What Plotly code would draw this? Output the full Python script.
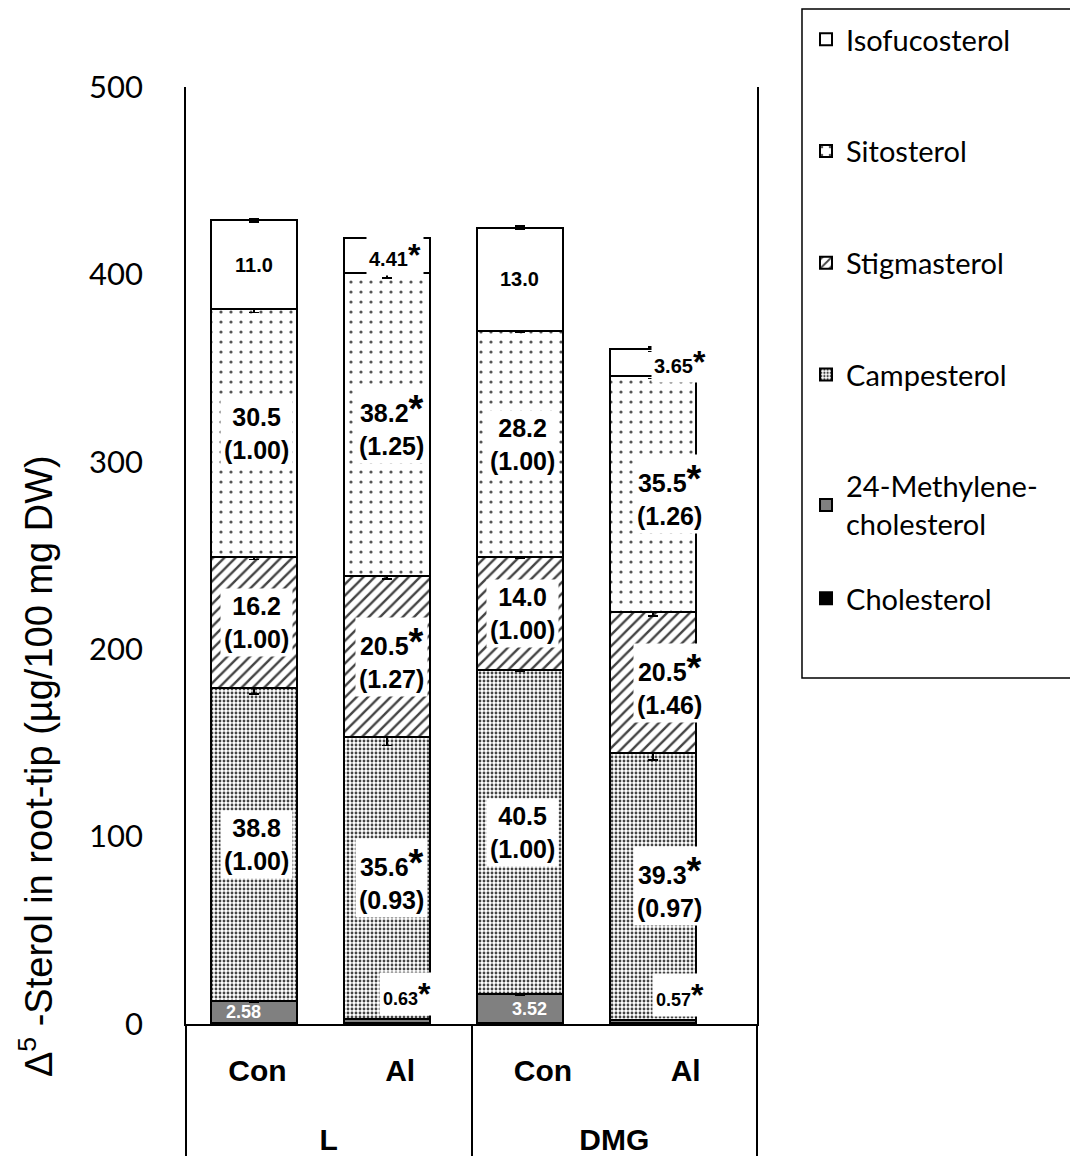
import plotly.graph_objects as go

# ---------------- data ----------------
groups = ["L", "L", "DMG", "DMG"]
treatments = ["Con", "Al", "Con", "Al"]
bar_pos = [0, 1, 2, 3]

series_names = ["Cholesterol", "24-Methylene-<br>cholesterol", "Campesterol",
                "Stigmasterol", "Sitosterol", "Isofucosterol"]

# amounts (µg/100 mg DW), stacked bottom -> top
cholesterol = [0.6, 0.6, 0.6, 0.6]
methylene = [11.5, 2.2, 15.3, 1.8]
campesterol = [167.1, 150.2, 173.1, 142.1]
stigmasterol = [69.8, 86.0, 60.0, 75.2]
sitosterol = [132.3, 162.0, 120.6, 126.3]
isofucosterol = [47.5, 18.2, 55.4, 14.0]

# error bars (SE)
err_cholesterol = [0.0, 0.0, 0.0, 0.0]
err_methylene = [0.5, 0.3, 0.5, 0.3]
err_campesterol = [3.0, 4.5, 0.7, 3.5]
err_stigmasterol = [1.2, 1.5, 0.5, 2.0]
err_sitosterol = [1.5, 3.0, 0.6, 1.5]
err_isofucosterol = [0.8, 1.2, 0.8, 1.2]

# labels: percentage of total and ratio to control
pct_methylene = ["2.58", "0.63", "3.52", "0.57"]
pct_campesterol = ["38.8", "35.6", "40.5", "39.3"]
ratio_campesterol = ["1.00", "0.93", "1.00", "0.97"]
pct_stigmasterol = ["16.2", "20.5", "14.0", "20.5"]
ratio_stigmasterol = ["1.00", "1.27", "1.00", "1.46"]
pct_sitosterol = ["30.5", "38.2", "28.2", "35.5"]
ratio_sitosterol = ["1.00", "1.25", "1.00", "1.26"]
pct_isofucosterol = ["11.0", "4.41", "13.0", "3.65"]
significant = [False, True, False, True]

y_ticks = [0, 100, 200, 300, 400, 500]

# ---------------- styles ----------------
BLACK = "black"
series_data = [cholesterol, methylene, campesterol, stigmasterol, sitosterol, isofucosterol]
series_err = [err_cholesterol, err_methylene, err_campesterol, err_stigmasterol,
              err_sitosterol, err_isofucosterol]
series_style = [
    dict(color="black", pattern=dict(shape="")),
    dict(color="#808080", pattern=dict(shape="")),
    dict(color="white", pattern=dict(shape=".", fgcolor="#444444", bgcolor="white",
                                     size=4, solidity=0.4, fillmode="replace")),
    dict(color="white", pattern=dict(shape="/", fgcolor="#444444", bgcolor="white",
                                     size=8, solidity=0.3, fillmode="replace")),
    dict(color="white", pattern=dict(shape=".", fgcolor="#555555", bgcolor="white",
                                     size=10, solidity=0.08, fillmode="replace")),
    dict(color="white", pattern=dict(shape="")),
]
legend_ids = ["legend2", "legend", "legend", "legend", "legend", "legend"]
legend_ranks = [6, 5, 4, 3, 2, 1]

fig = go.Figure()
for name, vals, errs, st, lg, rk in zip(series_names, series_data, series_err,
                                        series_style, legend_ids, legend_ranks):
    fig.add_trace(go.Bar(
        x=bar_pos, y=vals, name=name, legend=lg, legendgroup=name, legendrank=rk,
        width=0.645,
        marker=dict(color=st["color"], pattern=st["pattern"],
                    line=dict(color=BLACK, width=2)),
        error_y=dict(type="data", array=errs, color=BLACK, thickness=1.5, width=5,
                     visible=True),
        hoverinfo="skip",
    ))

# invisible trace to establish the two-level category axis
CAT_SPAN = "<span style='font-size:30px'>{}</span>"
fig.add_trace(go.Scatter(
    x=[["<br>" + CAT_SPAN.format(g) for g in groups],
       [CAT_SPAN.format(t) for t in treatments]],
    y=[0, 0, 0, 0], xaxis="x2", mode="markers", marker=dict(opacity=0),
    showlegend=False, hoverinfo="skip"))

# ---------------- segment labels ----------------
STAR = "<span style='font-size:38px'>*</span>"
SMALL_STAR = "<span style='font-size:32px'>*</span>"
lab_font = dict(family="Liberation Sans", size=25, color="black", weight="bold")
small_font = dict(family="Liberation Sans", size=20, color="black", weight="bold")
tiny_font = dict(family="Liberation Sans", size=18, color="black", weight="bold")

annotations = []
shift_big = [3, 5, 3, 17]
shift_iso = [0, 8, 0, 27]
shift_meth = [-10, 20, 10, 27]
for i in range(4):
    base = cholesterol[i]
    t_meth = base + methylene[i]
    t_camp = t_meth + campesterol[i]
    t_stig = t_camp + stigmasterol[i]
    t_sito = t_stig + sitosterol[i]
    t_iso = t_sito + isofucosterol[i]
    star = STAR if significant[i] else ""
    sstar = SMALL_STAR if significant[i] else ""
    for lo, hi, pct, rat in [(t_meth, t_camp, pct_campesterol[i], ratio_campesterol[i]),
                             (t_camp, t_stig, pct_stigmasterol[i], ratio_stigmasterol[i]),
                             (t_stig, t_sito, pct_sitosterol[i], ratio_sitosterol[i])]:
        annotations.append(dict(x=bar_pos[i], y=(lo + hi) / 2, xref="x", yref="y",
                                text=f"{pct}{star}<br>({rat})", showarrow=False,
                                font=lab_font, bgcolor="white", borderpad=3,
                                xshift=shift_big[i]))
    annotations.append(dict(x=bar_pos[i], y=(t_sito + t_iso) / 2, xref="x", yref="y",
                            text=f"{pct_isofucosterol[i]}{sstar}", showarrow=False,
                            font=small_font, bgcolor="white", borderpad=2,
                            xshift=shift_iso[i]))
    if significant[i]:
        annotations.append(dict(x=bar_pos[i], y=t_meth + 13, xref="x", yref="y",
                                text=f"{pct_methylene[i]}{sstar}", showarrow=False,
                                font=tiny_font, bgcolor="white", borderpad=3,
                                xshift=shift_meth[i]))
    else:
        annotations.append(dict(x=bar_pos[i], y=(base + t_meth) / 2, xref="x", yref="y",
                                text=pct_methylene[i], showarrow=False,
                                font=dict(family="Liberation Sans", size=18, color="white",
                                          weight="bold"),
                                xshift=shift_meth[i]))

# y-axis title
annotations.append(dict(x=-0.2627, y=0.2753, xref="paper", yref="paper",
                        text="Δ<sup>5</sup> -Sterol in root-tip (µg/100 mg DW)",
                        textangle=-90, showarrow=False, xanchor="center", yanchor="middle",
                        font=dict(family="Liberation Sans", size=38, color="black")))

fig.update_layout(
    width=1070, height=1158,
    margin=dict(l=178, r=321, t=79, b=142, autoexpand=False),
    paper_bgcolor="white", plot_bgcolor="white",
    barmode="stack",
    showlegend=True,
    annotations=annotations,
    xaxis=dict(range=[-0.511, 3.782], showticklabels=False, ticks="", showgrid=False,
               zeroline=False, showline=True, linecolor=BLACK, linewidth=1.5,
               automargin=False),
    xaxis2=dict(type="multicategory", overlaying="x", anchor="y", side="bottom",
                range=[-0.5, 3.5], showline=False, ticks="", showgrid=False,
                showdividers=True, dividercolor=BLACK, dividerwidth=1.5,
                ticklabelstandoff=17, automargin=False,
                tickfont=dict(family="Liberation Sans", size=39, color=BLACK,
                              weight="bold")),
    yaxis=dict(range=[0, 500], tickvals=y_ticks, showgrid=False, zeroline=False,
               showline=True, mirror=True, linecolor=BLACK, linewidth=1.5, ticks="",
               ticklabelstandoff=35, automargin=False,
               tickfont=dict(family="Lato", size=31, color=BLACK)),
    legend=dict(xref="container", yref="container", x=0.7458, y=0.9948,
                xanchor="left", yanchor="top",
                traceorder="grouped", tracegroupgap=71,
                font=dict(family="Lato", size=29, color=BLACK),
                bgcolor="rgba(0,0,0,0)", borderwidth=0),
    legend2=dict(xref="container", yref="container", x=0.7458, y=0.5121,
                 xanchor="left", yanchor="top",
                 font=dict(family="Lato", size=29, color=BLACK),
                 bgcolor="rgba(0,0,0,0)", borderwidth=0),
    shapes=[dict(type="rect", xref="paper", yref="paper",
                 x0=1.0788, x1=1.5552, y0=0.3693, y1=1.0832,
                 line=dict(color=BLACK, width=1.5), fillcolor="rgba(0,0,0,0)")],
)

fig.write_html("out.html")
